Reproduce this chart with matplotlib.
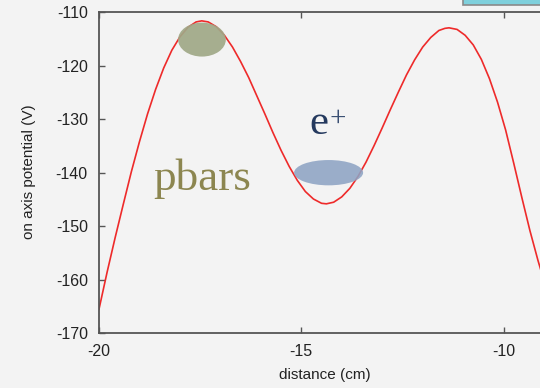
import matplotlib
matplotlib.use("Agg")
import matplotlib.pyplot as plt
from matplotlib.patches import Ellipse, Rectangle

plt.rcParams["axes.unicode_minus"] = False

# on-axis potential (cm, V)
distance = [-20.0, -19.8, -19.6, -19.4, -19.2, -19.0, -18.8, -18.6, -18.4, -18.2,
            -18.0, -17.8, -17.6, -17.46, -17.3, -17.1, -16.9, -16.7, -16.5, -16.3,
            -16.1, -15.9, -15.7, -15.5, -15.3, -15.1, -14.9, -14.7, -14.5, -14.38,
            -14.2, -14.0, -13.8, -13.6, -13.4, -13.2, -13.0, -12.8, -12.6, -12.4,
            -12.2, -12.0, -11.8, -11.6, -11.45, -11.35, -11.15, -10.95, -10.75, -10.55,
            -10.35, -10.15, -9.95, -9.75, -9.55, -9.35, -9.15, -8.95]
potential = [-165.5, -158.6, -152.1, -145.9, -139.8, -134.2, -129.0, -124.4, -120.4, -117.1,
             -114.6, -112.8, -111.8, -111.6, -111.8, -112.7, -114.3, -116.5, -119.2, -122.2,
             -125.6, -129.0, -132.5, -135.8, -138.8, -141.4, -143.5, -144.9, -145.7, -145.8,
             -145.5, -144.5, -142.9, -140.7, -138.0, -134.9, -131.6, -128.2, -124.9, -121.7,
             -118.9, -116.5, -114.7, -113.4, -113.0, -112.9, -113.2, -114.3, -116.1, -118.8,
             -122.4, -126.8, -132.0, -138.2, -144.6, -150.8, -156.4, -161.5]

xticks = [-20, -15, -10]
yticks = [-170, -160, -150, -140, -130, -120, -110]

# particle clouds: (x centre, y centre, width, height)
pbar_cloud = (-17.455, -115.1, 1.18, 6.35)
positron_cloud = (-14.325, -139.98, 1.705, 4.73)

bg = "#f3f3f3"
fig = plt.figure(figsize=(5.4, 3.88), dpi=100, facecolor=bg)
ax = fig.add_axes([0.1833, 0.141, 0.8617, 0.8273], facecolor=bg)

ax.plot(distance, potential, color="#ee2a2a", lw=1.2, zorder=2)

ax.add_patch(Ellipse(pbar_cloud[:2], pbar_cloud[2], pbar_cloud[3],
                     facecolor="#a0a887", edgecolor="none", alpha=0.92, zorder=3))
ax.add_patch(Ellipse(positron_cloud[:2], positron_cloud[2], positron_cloud[3],
                     facecolor="#8ea4c4", edgecolor="none", alpha=0.88, zorder=3))

ax.text(-18.66, -143.2, "pbars", family="Liberation Serif", fontsize=32.5,
        color="#8c8650", va="baseline", ha="left")
ax.text(-14.80, -132.75, "e", family="Liberation Serif", fontsize=31,
        color="#24395e", va="baseline", ha="left")
ax.text(-14.09, -129.9, "+", family="Liberation Serif", fontsize=21,
        color="#3a4f73", va="center", ha="center")

ax.set_xlim(-20, -8.5)
ax.set_ylim(-170, -110)
ax.set_xticks(xticks)
ax.set_yticks(yticks)
ax.tick_params(direction="in", length=4, width=1, color="#555555",
               top=True, labelsize=11.5, pad=8, labelcolor="#222222")
for lab in ax.get_xticklabels() + ax.get_yticklabels():
    lab.set_family("Liberation Sans")
for s in ax.spines.values():
    s.set_color("#555555")
    s.set_linewidth(1.3)

fig.text(325 / 540, 1 - 375 / 388, "distance (cm)", ha="center", va="center",
         fontsize=11, family="Liberation Sans", color="#222222")
fig.text(29 / 540, 1 - 172 / 388, "on axis potential (V)", ha="center", va="center",
         rotation=90, fontsize=11, family="Liberation Sans", color="#222222")

# corner of a cyan box peeking in at the top right
fig.add_artist(Rectangle((463 / 540, 1 - 4.5 / 388), 0.2, 0.05, transform=fig.transFigure,
                         facecolor="#7fd0dc", edgecolor="#8a8a8a", lw=1.2))

fig.savefig("out.png", dpi=100, facecolor=bg)
